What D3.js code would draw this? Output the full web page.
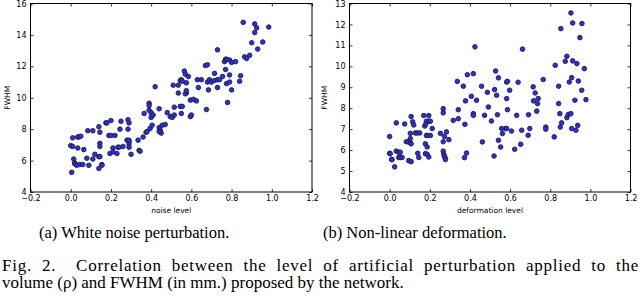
<!DOCTYPE html>
<html><head><meta charset="utf-8">
<script src="https://cdn.jsdelivr.net/npm/d3@7"></script>
<style>body{margin:0;background:#fff}svg{display:block}</style>
</head><body>
<script>
// Left panel: noise level vs FWHM
const noiseX = [0.005,0.0,0.01,0.01,0.035,0.04,0.05,0.035,0.015,0.02,0.02,0.03,0.045,0.06,0.065,0.085,0.11,0.08,0.09,0.11,0.12,0.14,0.14,0.145,0.145,0.145,0.145,0.155,0.155,0.14,0.175,0.18,0.2,0.19,0.2,0.195,0.21,0.21,0.22,0.23,0.235,0.24,0.245,0.25,0.26,0.28,0.285,0.29,0.285,0.29,0.29,0.29,0.3,0.29,0.34,0.345,0.335,0.36,0.365,0.375,0.38,0.39,0.39,0.39,0.4,0.4,0.395,0.405,0.41,0.42,0.44,0.44,0.445,0.45,0.44,0.455,0.47,0.48,0.495,0.505,0.51,0.515,0.515,0.535,0.535,0.545,0.55,0.555,0.545,0.555,0.55,0.565,0.57,0.575,0.575,0.57,0.575,0.585,0.595,0.6,0.595,0.61,0.625,0.63,0.65,0.635,0.67,0.68,0.675,0.68,0.685,0.69,0.7,0.715,0.715,0.73,0.73,0.73,0.74,0.755,0.765,0.77,0.775,0.77,0.775,0.78,0.79,0.79,0.79,0.8,0.8,0.82,0.84,0.845,0.858,0.865,0.875,0.89,0.9,0.915,0.915,0.925,0.93,0.955,0.985];
const noiseY = [5.25,6.95,6.9,7.45,7.5,7.5,7.55,6.8,6.1,5.85,5.8,5.7,5.75,5.75,6.7,7.9,7.9,6.15,5.7,6.1,6.4,6.25,8.15,7.8,7.1,6.9,6.25,5.75,5.7,5.5,8.4,8.4,8.55,7.6,7.6,6.45,6.8,6.55,7.6,6.45,6.85,6.85,8.0,8.5,6.9,7.3,8.6,8.4,8.0,7.2,7.05,6.85,6.4,7.3,6.65,6.6,7.3,7.5,9.0,7.8,7.85,9.65,9.5,9.2,9.05,8.75,8.05,8.25,8.9,10.7,9.3,8.1,7.95,7.75,7.85,8.25,8.3,9.05,8.8,8.75,10.8,9.4,8.9,10.8,10.3,11.1,11.15,11.05,9.45,9.45,9.0,11.7,11.5,10.95,10.3,10.25,10.45,11.35,8.8,8.9,9.85,9.9,9.8,11.15,11.15,10.65,12.05,12.1,9.25,11.0,10.5,11.15,11.0,11.55,11.1,13.05,11.15,10.65,11.15,11.35,12.3,12.45,12.45,11.8,10.9,9.7,12.4,11.45,11.0,12.25,10.5,12.3,11.05,11.4,14.8,12.6,12.5,12.7,13.5,14.7,14.15,14.45,13.1,13.55,14.5];

// Right panel: deformation level vs FWHM
const deformX = [0.0,0.0,0.003,0.01,0.012,0.025,0.033,0.033,0.045,0.053,0.045,0.053,0.062,0.075,0.083,0.092,0.095,0.107,0.107,0.103,0.103,0.103,0.107,0.115,0.12,0.128,0.137,0.15,0.14,0.145,0.17,0.175,0.18,0.183,0.178,0.187,0.178,0.187,0.195,0.183,0.19,0.195,0.195,0.203,0.212,0.203,0.253,0.267,0.267,0.267,0.267,0.27,0.273,0.277,0.278,0.273,0.283,0.295,0.317,0.337,0.342,0.342,0.367,0.373,0.383,0.375,0.378,0.387,0.417,0.407,0.417,0.417,0.425,0.433,0.458,0.462,0.473,0.487,0.492,0.507,0.52,0.523,0.528,0.533,0.537,0.542,0.542,0.553,0.558,0.562,0.578,0.583,0.583,0.587,0.583,0.587,0.598,0.607,0.623,0.633,0.64,0.653,0.658,0.662,0.692,0.69,0.698,0.715,0.717,0.725,0.733,0.737,0.74,0.765,0.778,0.778,0.82,0.825,0.842,0.842,0.848,0.85,0.857,0.853,0.883,0.875,0.883,0.89,0.903,0.895,0.907,0.903,0.912,0.958,0.912,0.933,0.923,0.928,0.907,0.94,0.937,0.948,0.957,0.97,0.978];
const deformY = [6.65,5.85,5.82,5.55,5.55,5.2,7.3,5.95,5.9,5.9,5.65,5.65,5.65,7.25,6.4,6.4,5.5,5.45,7.6,6.8,6.55,6.35,6.3,7.35,7.2,6.82,6.82,6.82,5.85,5.65,7.65,7.15,7.25,7.38,6.3,6.15,5.83,5.8,5.67,6.7,6.7,7.65,7.38,7.38,7.03,6.7,6.8,7.98,7.78,6.4,5.95,5.8,5.7,5.62,5.55,6.65,6.87,6.5,7.42,9.28,7.5,7.93,9.05,5.64,5.86,7.23,8.35,9.6,9.65,8.57,7.74,7.66,10.93,8.38,9.05,6.39,7.66,8.76,8.06,7.39,5.72,8.89,9.78,8.62,7.69,9.45,6.47,6.15,7.03,6.79,7.03,7.03,9.25,9.28,8.46,7.93,8.86,6.91,6.04,7.66,9.24,6.28,6.95,10.82,7.69,6.71,7.03,9.02,8.35,8.73,7.86,8.22,8.46,9.37,7.1,7.0,6.63,10.05,9.05,8.22,7.74,7.1,7.3,11.8,10.48,10.24,7.55,7.7,7.74,9.25,9.46,12.55,12.07,12.04,10.26,10.13,8.38,6.95,7.03,9.3,7.18,11.37,8.86,9.89,8.41];

const xTicks = [-0.2,0.0,0.2,0.4,0.6,0.8,1.0,1.2];
const yTicksLeft = [4,6,8,10,12,14,16];
const yTicksRight = [4,5,6,7,8,9,10,11,12,13];
const panels = [
  {xs: noiseX, ys: noiseY, yDomain:[4,16], yTicks: yTicksLeft, xLabel:"noise level", caption:"(a) White noise perturbation.", x0:30.5, x1:312, y0:192, y1:3.5, labelX:7, capX:39},
  {xs: deformX, ys: deformY, yDomain:[4,13], yTicks: yTicksRight, xLabel:"deformation level", caption:"(b) Non-linear deformation.", x0:349.5, x1:630.5, y0:192, y1:3.5, labelX:324, capX:323}
];
const figCaption = ["Fig. 2.  Correlation between the level of artificial perturbation applied to the",
                    "volume (\u03C1) and FWHM (in mm.) proposed by the network."];

const svg = d3.select("body").append("svg").attr("width",640).attr("height",304);
const tickFont = "DejaVu Sans, sans-serif";
const serif = "Liberation Serif, Times New Roman, serif";
const fmt = d => d3.format(".1f")(d).replace("-", "\u2212");

panels.forEach(p => {
  const x = d3.scaleLinear().domain([-0.2,1.2]).range([p.x0,p.x1]);
  const y = d3.scaleLinear().domain(p.yDomain).range([p.y0,p.y1]);
  const g = svg.append("g");
  const styleAxis = (sel) => {
    sel.select(".domain").remove();
    sel.selectAll("text").attr("font-family",tickFont).attr("font-size",8).attr("fill","#000");
    sel.selectAll("line").attr("stroke","#000").attr("stroke-width",0.8);
  };
  g.append("g").attr("transform",`translate(0,${p.y0})`)
    .call(d3.axisBottom(x).tickValues(xTicks).tickFormat(fmt).tickSizeInner(-3).tickSizeOuter(0).tickPadding(3.5))
    .call(styleAxis);
  g.append("g").attr("transform",`translate(0,${p.y1})`)
    .call(d3.axisTop(x).tickValues(xTicks).tickFormat("").tickSizeInner(-3).tickSizeOuter(0))
    .call(styleAxis);
  g.append("g").attr("transform",`translate(${p.x0},0)`)
    .call(d3.axisLeft(y).tickValues(p.yTicks).tickFormat(d3.format("d")).tickSizeInner(-3).tickSizeOuter(0).tickPadding(4))
    .call(styleAxis);
  g.append("g").attr("transform",`translate(${p.x1},0)`)
    .call(d3.axisRight(y).tickValues(p.yTicks).tickFormat("").tickSizeInner(-3).tickSizeOuter(0))
    .call(styleAxis);
  g.append("rect").attr("x",p.x0).attr("y",p.y1).attr("width",p.x1-p.x0).attr("height",p.y0-p.y1)
    .attr("fill","none").attr("stroke","#000").attr("stroke-width",1);
  g.append("g").selectAll("circle").data(p.xs.map((v,i)=>[v,p.ys[i]])).join("circle")
    .attr("cx",d=>x(d[0])).attr("cy",d=>y(d[1])).attr("r",2.3)
    .attr("fill","#2a2aff").attr("stroke","#222").attr("stroke-width",0.9);
  g.append("text").attr("x",(p.x0+p.x1)/2).attr("y",213).attr("text-anchor","middle")
    .attr("font-family",tickFont).attr("font-size",7.5).text(p.xLabel);
  g.append("text").attr("transform",`translate(${p.labelX+2.5},${(p.y0+p.y1)/2}) rotate(-90)`)
    .attr("text-anchor","middle").attr("font-family",tickFont).attr("font-size",7.5).text("FWHM");
  g.append("text").attr("x",p.capX).attr("y",237.5).attr("font-family",serif)
    .attr("font-size",16.5).text(p.caption);
});
figCaption.forEach((t,i) => {
  const tx = svg.append("text").attr("x",2).attr("y",270.5+i*17).attr("font-family",serif)
    .attr("font-size",17).attr("xml:space","preserve").style("white-space","pre").text(t);
  if (i === 0) {
    tx.attr("letter-spacing", 0.75);
    const len = tx.node().getComputedTextLength();
    const spaces = (t.match(/ /g) || []).length;
    tx.attr("word-spacing", Math.max(0,(637 - len)/spaces));
  }
});
</script>
</body></html>
